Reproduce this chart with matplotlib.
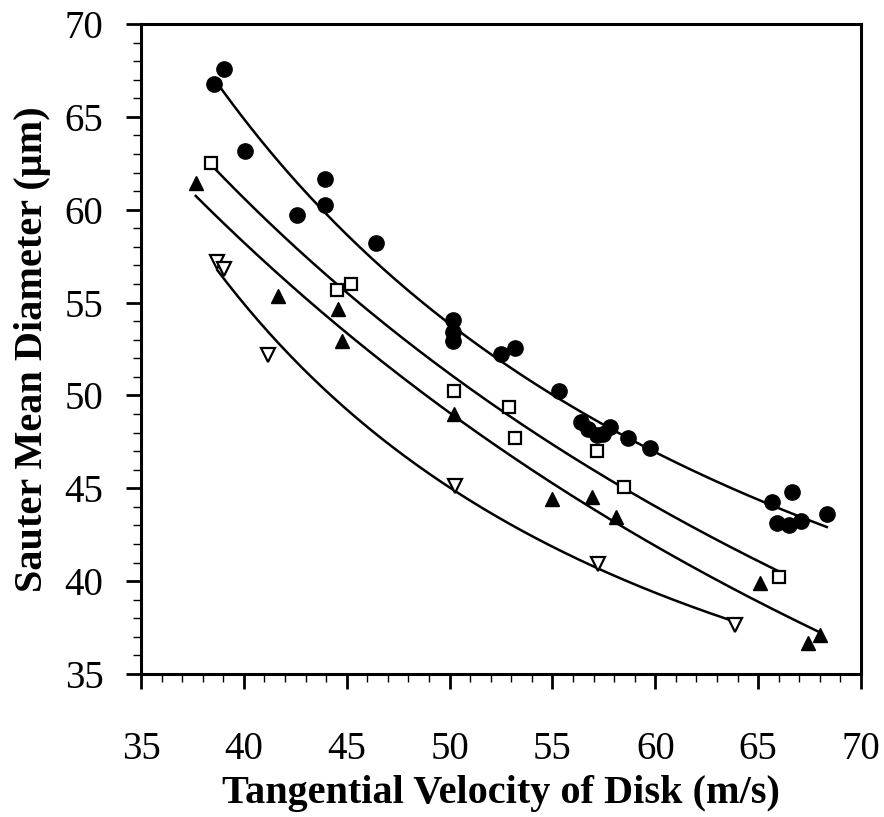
import matplotlib.pyplot as plt
import numpy as np
from matplotlib.ticker import MultipleLocator

# filled circles
v_circ = [38.55, 39.03, 40.06, 42.58, 43.95, 43.95, 46.42, 50.17, 50.17, 50.17,
          52.49, 53.18, 55.34, 56.39, 56.75, 57.15, 57.45, 57.80, 58.69, 59.75,
          65.66, 66.66, 65.93, 66.52, 67.07, 68.34]
d_circ = [66.77, 67.58, 63.16, 59.72, 61.66, 60.26, 58.21, 54.06, 53.42, 52.93,
          52.22, 52.57, 50.24, 48.59, 48.18, 47.87, 47.91, 48.28, 47.69, 47.15,
          44.28, 44.82, 43.15, 43.02, 43.26, 43.62]

# open squares
v_sq = [38.40, 44.51, 45.21, 50.22, 52.90, 53.18, 57.15, 58.50, 66.02]
d_sq = [62.50, 55.68, 55.98, 50.24, 49.40, 47.69, 47.01, 45.05, 40.24]

# filled triangles
v_tri = [37.66, 41.65, 44.58, 44.79, 50.22, 54.98, 56.94, 58.08, 65.09, 67.41, 68.01]
d_tri = [61.46, 55.37, 54.66, 52.95, 49.00, 44.42, 44.51, 43.47, 39.92, 36.69, 37.10]

# open down triangles
v_dn = [38.71, 39.03, 41.16, 50.27, 57.23, 63.88]
d_dn = [57.20, 56.80, 52.18, 45.12, 40.90, 37.64]

plt.rcParams['font.family'] = ['Liberation Serif', 'DejaVu Serif']

fig, ax = plt.subplots(figsize=(8.84, 8.17), dpi=100)
fig.subplots_adjust(left=0.1595, right=0.974, top=0.9706, bottom=0.175)


def fit_curve(x, y):
    x = np.array(x)
    y = np.array(y)
    p = np.polyfit(np.log(x), np.log(y), 2)
    xs = np.linspace(x.min(), x.max(), 200)
    return xs, np.exp(np.polyval(p, np.log(xs)))


series = [
    (v_circ, d_circ, dict(marker='o', ms=11, mfc='black', mec='black')),
    (v_sq, d_sq, dict(marker='s', ms=8.5, mfc='white', mec='black', mew=1.6)),
    (v_tri, d_tri, dict(marker='^', ms=10, mfc='black', mec='black')),
    (v_dn, d_dn, dict(marker='v', ms=9.5, mfc='white', mec='black', mew=1.6)),
]

for x, y, style in series:
    xs, ys = fit_curve(x, y)
    ax.plot(xs, ys, color='black', lw=1.8, zorder=2)
    ax.plot(x, y, ls='none', zorder=3, clip_on=False, **style)

ax.set_xlim(35, 70)
ax.set_ylim(35, 70)
ax.xaxis.set_major_locator(MultipleLocator(5))
ax.xaxis.set_minor_locator(MultipleLocator(1))
ax.yaxis.set_major_locator(MultipleLocator(5))
ax.yaxis.set_minor_locator(MultipleLocator(1))

for s in ax.spines.values():
    s.set_linewidth(2.2)

ax.tick_params(which='major', direction='out', length=11, width=2, labelsize=28)
ax.tick_params(which='minor', direction='out', length=5.5, width=1)
ax.tick_params(axis='x', which='major', pad=30)
ax.tick_params(axis='y', which='major', pad=16)

ax.set_xlabel('Tangential Velocity of Disk (m/s)', fontsize=29, fontweight='bold', labelpad=5)
ax.set_ylabel('Sauter Mean Diameter (\u03bcm)', fontsize=29, fontweight='bold', labelpad=10)

fig.savefig('out.png', dpi=100)
